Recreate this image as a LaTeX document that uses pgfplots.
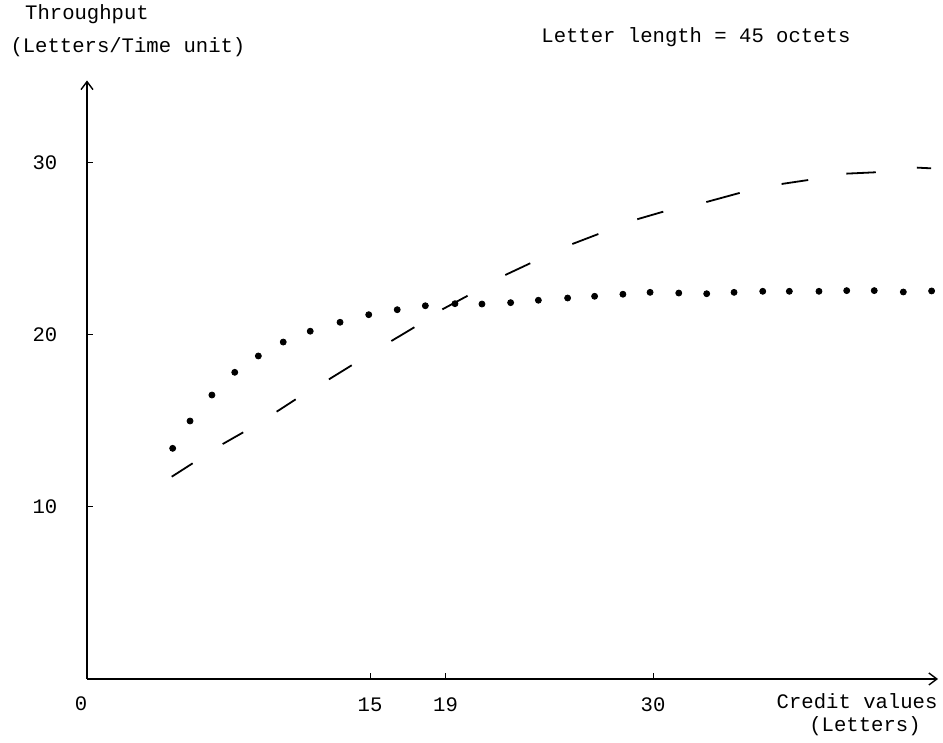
\documentclass[border=0pt]{standalone}
\usepackage{fontspec}
\setmainfont{Liberation Mono}
\usepackage{pgfplots}
\pgfplotsset{compat=1.18}
\usetikzlibrary{arrows.meta}
\begin{document}
\fontsize{10.3}{12}\selectfont
\begin{tikzpicture}
\begin{axis}[
  x=9.435pt, y=8.6pt,
  xmin=0, xmax=45.1, ymin=0, ymax=34.8,
  axis lines=left,
  axis line style={line width=0.7pt},
  x axis line style={-{Straight Barb[length=4pt,width=6pt]}},
  y axis line style={-{Straight Barb[length=4pt,width=6pt]}},
  xtick={15,19,30}, ytick={10,20,30},
  major tick length=3pt,
  tick align=inside,
  tick style={line width=0.5pt, black},
  xticklabel style={anchor=center, yshift=-13pt},
  yticklabel style={anchor=center, xshift=-21pt},
  /pgf/number format/assume math mode=true,
  clip=false,
  unbounded coords=jump,
]
% dotted series
\addplot[only marks, mark=*, mark size=1.5pt, black] coordinates {
  (4.54,13.41) (5.46,15.00) (6.62,16.51) (7.83,17.83) (9.08,18.78)
  (10.40,19.59) (11.83,20.22) (13.41,20.74) (14.93,21.18) (16.44,21.47)
  (17.93,21.70) (19.50,21.82) (20.93,21.80) (22.45,21.88) (23.92,22.02)
  (25.47,22.15) (26.90,22.25) (28.40,22.37) (29.84,22.48) (31.36,22.44)
  (32.84,22.40) (34.29,22.48) (35.81,22.54) (37.22,22.54) (38.79,22.54)
  (40.26,22.58) (41.72,22.58) (43.26,22.50) (44.76,22.56)
};
% dashed series, one segment per dash
\addplot[black, line width=0.9pt] coordinates {
  (4.49,11.76) (5.60,12.54) (6,nan)
  (7.19,13.66) (8.28,14.34) (9,nan)
  (10.05,15.54) (11.06,16.26) (12,nan)
  (12.82,17.42) (14.03,18.24) (15,nan)
  (16.13,19.65) (17.35,20.45) (18,nan)
  (18.83,21.49) (20.17,22.28) (21,nan)
  (22.17,23.49) (23.49,24.17) (24,nan)
  (25.72,25.29) (27.10,25.87) (28,nan)
  (29.16,26.73) (30.54,27.17) (31,nan)
  (32.82,27.73) (34.59,28.26) (35,nan)
  (36.81,28.78) (38.22,29.01) (39,nan)
  (40.24,29.38) (41.80,29.46) (42,nan)
  (43.98,29.73) (44.73,29.69)
};
\coordinate (O) at (axis cs:0,0);
\node at (axis cs:0,38.66) {Throughput};
\node at (axis cs:2.17,36.74) {(Letters/Time unit)};
\node at (axis cs:32.27,37.33) {Letter length = 45 octets};
\node at (axis cs:-0.32,-1.45) {0};
\node at (axis cs:40.81,-1.3) {Credit values};
\node at (axis cs:41.23,-2.75) {(Letters)};
\end{axis}
\pgfresetboundingbox
\path (O) ++(-43.5pt,-32pt) rectangle ++(471.5pt,371.5pt);
\end{tikzpicture}
\end{document}
